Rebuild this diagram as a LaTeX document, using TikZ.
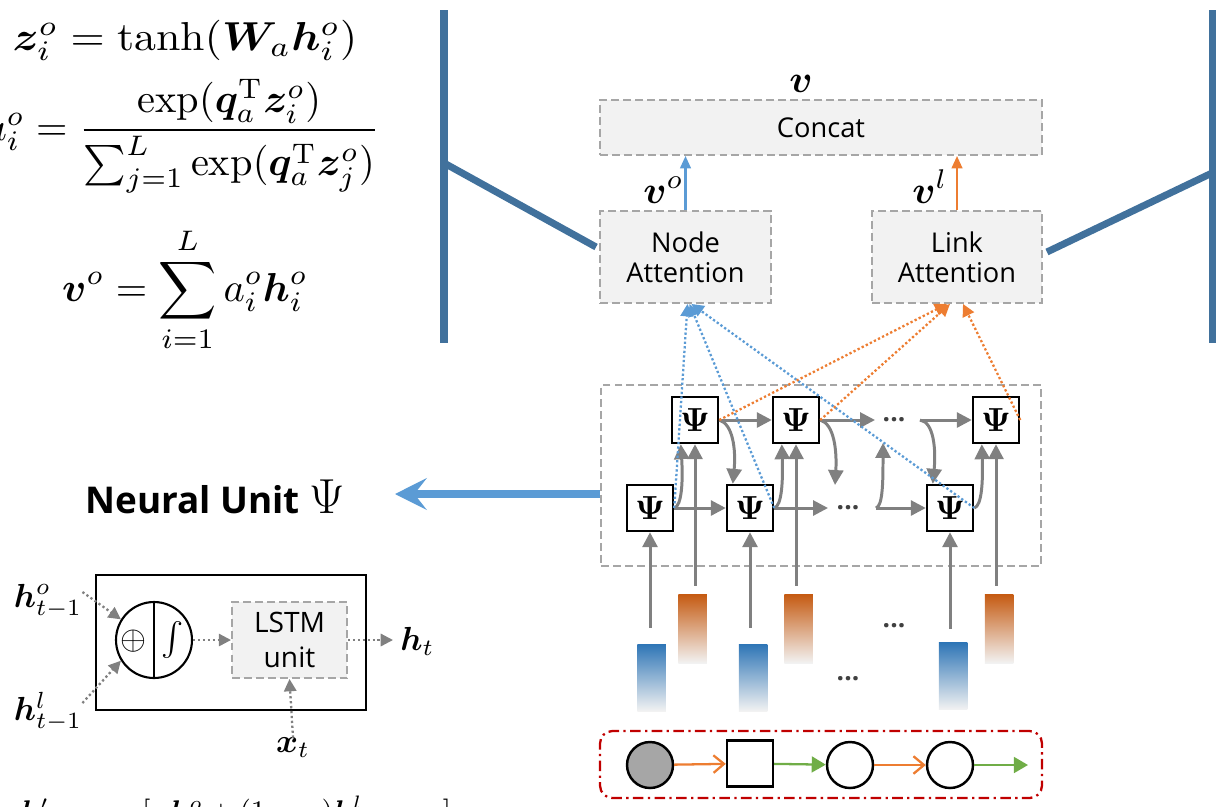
\documentclass[tikz,border=0pt]{standalone}
\usepackage{fontspec}
\usepackage{amsmath}
\usepackage{bm}
\usepackage{graphicx}
\newfontfamily\uisans{Open Sans}
\usetikzlibrary{arrows.meta,calc}

% math at scaled sizes
\newcommand{\mz}[2]{\scalebox{#1}{$#2$}}

\definecolor{frameblue}{RGB}{65,113,156}
\definecolor{lblue}{RGB}{91,155,213}
\definecolor{lorange}{RGB}{237,125,49}
\definecolor{agray}{RGB}{128,128,128}
\definecolor{boxfill}{RGB}{242,242,242}
\definecolor{boxline}{RGB}{166,166,166}
\definecolor{pathred}{RGB}{192,0,0}
\definecolor{lgreen}{RGB}{112,173,71}
\definecolor{barblue}{RGB}{46,117,182}
\definecolor{barblueM}{RGB}{189,215,238}
\definecolor{barorange}{RGB}{197,90,17}
\definecolor{barorangeM}{RGB}{248,203,173}
\definecolor{barend}{RGB}{242,242,242}
\definecolor{dotgray}{RGB}{64,64,64}

\begin{document}
\begin{tikzpicture}[x=0.02cm,y=-0.02cm,
  eq/.style={inner sep=0pt},
  frame/.style={draw=frameblue, line width=4pt},
  dashbox/.style={draw=boxline, fill=boxfill, line width=1.1pt,
    dash pattern=on 4.5pt off 2.3pt, inner sep=0pt, align=center,
    font=\uisans\fontsize{15.5}{17}\selectfont},
  gridbox/.style={draw=boxline, line width=1.1pt, dash pattern=on 4.5pt off 2.3pt, inner sep=0pt},
  psibox/.style={draw=black, fill=white, line width=1.4pt, minimum size=0.92cm, inner sep=0pt},
  flow/.style={draw=agray, line width=1.7pt, -{Triangle[length=8.5pt,width=8.5pt]}},
  dots/.style={inner sep=0pt, text=dotgray, font=\uisans\bfseries\fontsize{15}{17}\selectfont},
  attb/.style={draw=lblue, line width=1.3pt, dash pattern=on 1.3pt off 1.3pt,
    -{Triangle[length=7pt,width=7pt]}},
  atto/.style={draw=lorange, line width=1.3pt, dash pattern=on 1.3pt off 1.3pt,
    -{Triangle[length=7pt,width=7pt]}},
  upblue/.style={draw=lblue, line width=1.3pt, -{Triangle[length=7pt,width=6pt]}},
  uporange/.style={draw=lorange, line width=1.3pt, -{Triangle[length=7pt,width=6pt]}},
  bluebar/.style={minimum width=0.57cm, minimum height=1.34cm, inner sep=0pt,
    top color=barblue, middle color=barblueM, bottom color=barend},
  orangebar/.style={minimum width=0.57cm, minimum height=1.38cm, inner sep=0pt,
    top color=barorange, middle color=barorangeM, bottom color=barend},
  dotarrow/.style={draw=agray, line width=1.3pt, dash pattern=on 1.3pt off 1.5pt,
    -{Triangle[length=7pt,width=7pt]}},
  stepnode/.style={draw=black, line width=1.4pt, minimum size=0.92cm, inner sep=0pt},
  linko/.style={draw=lorange, line width=1.3pt, -{Straight Barb[length=6pt,width=10pt,line width=1.3pt]}},
  linkg/.style={draw=lgreen, line width=1.3pt, -{Triangle[length=8pt,width=9pt]}}]

\useasboundingbox (0,0) rectangle (1216,806);
\clip (0,0) rectangle (1216,806);

% attention equations
\node[eq, anchor=base] (e1) at (185,50) {\scalebox{2.5}[2.3]{$\bm{z}_i^o = \tanh(\bm{W}_a\bm{h}_i^o)$}};
\node[eq, anchor=east] (e2) at (380,136)
  {\mz{2.3}{a_i^o = \dfrac{\exp(\bm{q}_a^{\mathrm{T}}\bm{z}_i^o)}{\sum_{j=1}^{L}\exp(\bm{q}_a^{\mathrm{T}}\bm{z}_j^o)}}};
\node[eq] (e3) at (185,290) {\mz{2.3}{\displaystyle \bm{v}^o = \sum_{i=1}^{L} a_i^o\bm{h}_i^o}};

% attention and concatenation layer
\node[dashbox, minimum width=8.84cm, minimum height=1.1cm] (cc) at (821,127.5) {Concat};
\node[dashbox, minimum width=3.42cm, minimum height=1.84cm] (na) at (685.5,257) {Node\\Attention};
\node[dashbox, minimum width=3.4cm, minimum height=1.84cm] (la) at (957,257) {Link\\Attention};
\node[eq, anchor=base] (v) at (801,92) {\mz{2.2}{\bm{v}}};
\node[eq, anchor=base west] (vo) at (643,203) {\mz{2.2}{\bm{v}^o}};
\node[eq, anchor=base west] (vl) at (912,203) {\mz{2.2}{\bm{v}^l}};
\draw[upblue] (na.north) -- (na.north |- cc.south);
\draw[uporange] (la.north) -- (la.north |- cc.south);

% zoom bracket
\draw[frame] (444,10) -- (444,343);
\draw[frame] (444,163) -- ($(na.west)+(-3,-10)$);
\draw[frame] (1212,10) -- (1212,343);
\draw[frame] (1212,173) -- ($(la.east)+(4,-5)$);

% recurrent grid of neural units
\node[gridbox, minimum width=8.8cm, minimum height=3.62cm] (grid) at (821,475.5) {};
\node[psibox] (u1) at (695,420) {\mz{1.9}{\bm{\Psi}}};
\node[psibox] (u2) at (796,420) {\mz{1.9}{\bm{\Psi}}};
\node[psibox] (u3) at (996,420) {\mz{1.9}{\bm{\Psi}}};
\node[psibox] (l1) at (650,508) {\mz{1.9}{\bm{\Psi}}};
\node[psibox] (l2) at (750,508) {\mz{1.9}{\bm{\Psi}}};
\node[psibox] (l3) at (950,508) {\mz{1.9}{\bm{\Psi}}};
\node[dots] (du) at (894,420) {...};
\node[dots] (dl) at (848,508) {...};
\coordinate (u2out) at (875,420);
\coordinate (ufrom) at (920,420);
\coordinate (u2down) at (835,485);
\coordinate (l2out) at (828,508);
\coordinate (lfrom) at (876,508);
\coordinate (lup) at (883,443);

% input embeddings
\node[bluebar] (b1) at (651.5,677.5) {};
\node[bluebar] (b2) at (753,677.5) {};
\node[bluebar] (b3) at (953,676) {};
\node[orangebar] (o1) at (692.5,628.5) {};
\node[orangebar] (o2) at (798.5,628.5) {};
\node[orangebar] (o3) at (999,628.5) {};
\node[dots] (dbo) at (894,626) {...};
\node[dots] (dbb) at (848,679) {...};

\draw[flow] ($(l1.south |- b1.north)+(0,-16)$) -- (l1.south);
\draw[flow] ($(l2.south |- b2.north)+(0,-16)$) -- (l2.south);
\draw[flow] ($(l3.south |- b3.north)+(0,-13)$) -- (l3.south);
\draw[flow] ($(u1.south |- o1.north)+(0,-8)$) -- (u1.south);
\draw[flow] ($(u2.south |- o2.north)+(0,-8)$) -- (u2.south);
\draw[flow] ($(u3.south |- o3.north)+(0,-8)$) -- (u3.south);

% horizontal recurrences
\draw[flow] (u1.east) -- (u2.west);
\draw[flow] (u2.east) -- (u2out);
\draw[flow] (ufrom) -- (u3.west);
\draw[flow] (l1.east) -- (l2.west);
\draw[flow] (l2.east) -- (l2out);
\draw[flow] (lfrom) -- (l3.west);

% cross links between the two rows
\draw[flow] (u1.east) .. controls (733,424) and (736,450) .. ($(l2.north west)+(7,0)$);
\draw[flow] (u2.east) .. controls (834,424) and (837,450) .. (u2down);
\draw[flow] (ufrom) .. controls (934,422) and (936,450) .. ($(l3.north west)+(7,0)$);
\draw[flow] (l1.east) .. controls (682,506) and (683,480) .. ($(u1.south west)+(10,0)$);
\draw[flow] (l2.east) .. controls (782,506) and (783,480) .. ($(u2.south west)+(10,0)$);
\draw[flow] (l3.east) .. controls (982,506) and (983,480) .. ($(u3.south west)+(10,0)$);
\draw[flow] (lfrom) .. controls (883,506) and (883,480) .. (lup);

% attention inputs
\draw[attb] (l1.east) -- ($(na.south)+(2,0)$);
\draw[attb] (l2.east) -- ($(na.south)+(4,0)$);
\draw[attb] (l3.east) -- ($(na.south)+(6,0)$);
\draw[atto] (u1.east) -- ($(la.south)+(-10,0)$);
\draw[atto] (u2.east) -- ($(la.south)+(-7,0)$);
\draw[atto] (u3.east) -- ($(la.south)+(6,0)$);

% meta-path instance
\node[draw=pathred, line width=1.3pt, dash pattern=on 6pt off 2.5pt on 1.3pt off 2.5pt,
  rounded corners=7pt, minimum width=8.84cm, minimum height=1.34cm, inner sep=0pt] (walk) at (821,764.5) {};
\node[stepnode, circle, fill=boxline] (p1) at (650,765) {};
\node[stepnode, rectangle] (p2) at (750,763.5) {};
\node[stepnode, circle] (p3) at (850,765) {};
\node[stepnode, circle] (p4) at (950,765) {};
\coordinate (pend) at (1028,765);
\draw[linko] (p1) -- (p2);
\draw[linkg] (p2) -- (p3);
\draw[linko] (p3) -- (p4);
\draw[linkg] (p4) -- (pend);

% neural unit label and pointer
\node[anchor=west, inner sep=0pt] (nu) at (85,497)
  {\uisans\bfseries\fontsize{21}{25}\selectfont Neural Unit \mz{1.35}{\Psi}};
\coordinate (nutip) at (395,494);
\draw[draw=lblue, line width=4.5pt, -{Stealth[length=18pt,width=18pt,inset=7pt]}] (grid.west |- nutip) -- (nutip);

% neural unit detail
\node[draw=black, line width=1.4pt, minimum width=5.4cm, minimum height=2.7cm, inner sep=0pt] (unit) at (231,642.5) {};
\node[draw=black, circle, line width=1.2pt, minimum size=1.52cm, inner sep=0pt] (mix) at (154,640) {};
\draw[line width=0.8pt] (mix.north) -- (mix.south);
\node[eq] (plus) at (133,641) {\mz{1.9}{\oplus}};
\node[eq] (intg) at (173,640) {\mz{1.9}{\int}};
\node[dashbox, font=\uisans\fontsize{16}{20}\selectfont, minimum width=2.3cm, minimum height=1.52cm] (lstm) at (289.5,640) {LSTM\\unit};
\node[eq, anchor=base west] (ht) at (400,650) {\mz{1.9}{\bm{h}_t}};
\node[eq] (ho) at (48,601) {\mz{1.9}{\bm{h}^o_{t-1}}};
\node[eq] (hl) at (48,712) {\mz{1.9}{\bm{h}^l_{t-1}}};
\node[eq] (xt) at (293,748) {\mz{1.9}{\bm{x}_t}};
\draw[dotarrow] ($(ho.east)+(0,-9)$) -- (mix.148);
\draw[dotarrow] ($(hl.east)+(0,-9)$) -- (mix.212);
\draw[dotarrow] (mix.east) -- (lstm.west);
\draw[dotarrow] (lstm.east) -- ($(lstm.east -| ht.west)+(-7,0)$);
\draw[dotarrow] (xt.north) -- (lstm.south);

% fusion equation (its lower part lies below the page)
\node[eq, anchor=base west] (e4) at (20,821)
  {\mz{1.7}{\bm{h}'_{t-1} = \hspace{7pt}[\alpha\bm{h}^o + (1-\alpha)\bm{h}^l\hspace{27pt}]}};
\end{tikzpicture}
\end{document}
